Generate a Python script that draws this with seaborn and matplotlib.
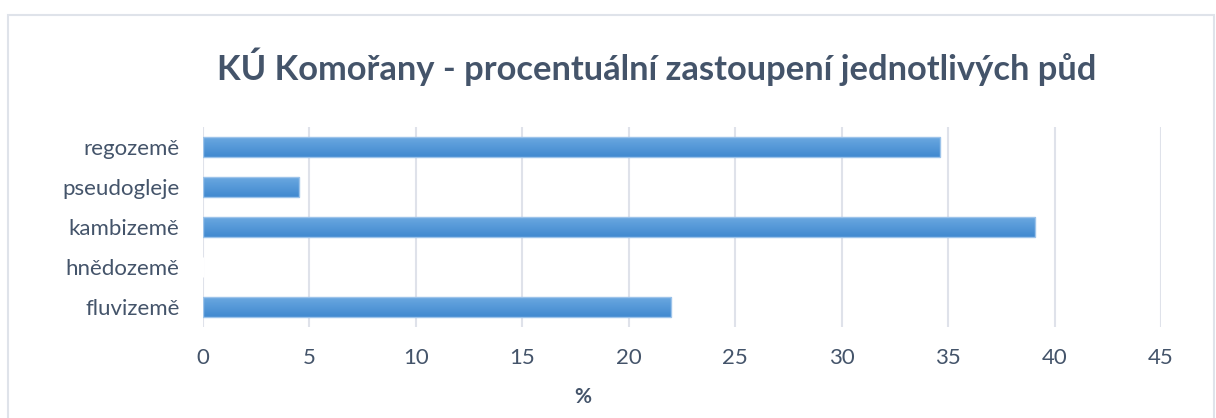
import numpy as np
import pandas as pd
import matplotlib.pyplot as plt
import seaborn as sns
from matplotlib.patches import Rectangle

# Data
soils = ["regozemě", "pseudogleje", "kambizemě", "hnědozemě", "fluvizemě"]
percent = [34.6, 4.5, 39.1, 0.0, 22.0]
x_ticks = [0, 5, 10, 15, 20, 25, 30, 35, 40, 45]

df = pd.DataFrame({"soil": soils, "percent": percent})

sns.set_style("white")
plt.rcParams["font.family"] = ["Lato", "DejaVu Sans"]
text_color = "#44546a"

fig = plt.figure(figsize=(12.16, 4.18), dpi=100, facecolor="white")
ax = fig.add_axes([203 / 1216, 1 - 327 / 418, (1161 - 203) / 1216, 200 / 418])

sns.barplot(data=df, x="percent", y="soil", order=soils, color="#5b9bd5",
            width=0.5, ax=ax, zorder=3)

# gradient fill on each bar, like Excel
grad = np.linspace(0, 1, 64).reshape(-1, 1)
cmap = sns.blend_palette(["#6aa8e0", "#4189d0"], as_cmap=True)
for p in ax.patches:
    w = p.get_width()
    if w <= 0:
        continue
    x0, y0, h = p.get_x(), p.get_y(), p.get_height()
    p.set_facecolor("none")
    p.set_edgecolor("#9cc3ea")
    p.set_linewidth(1.0)
    ax.imshow(grad, cmap=cmap, aspect="auto", extent=(x0, x0 + w, y0 + h, y0),
              zorder=2, interpolation="bilinear")

ax.set_xlim(0, 45)
ax.set_ylim(4.5, -0.5)
ax.set_xticks(x_ticks)
ax.xaxis.grid(True, color="#dfe2ea", linewidth=1.5, zorder=0)
ax.set_axisbelow(True)
for s in ax.spines.values():
    s.set_visible(False)
ax.tick_params(axis="both", length=0, labelsize=16, colors=text_color)
ax.tick_params(axis="x", pad=15)
ax.tick_params(axis="y", pad=17)
ax.set_ylabel("")
ax.set_xlabel("%", fontsize=15, fontweight="bold", color=text_color)
ax.xaxis.set_label_coords((583 - 203) / 958, -60 / 200)

fig.text(0.54, 1 - 67 / 418, "KÚ Komořany - procentuální zastoupení jednotlivých půd",
         ha="center", va="center", fontsize=24.8, fontweight="bold", color=text_color)

# chart border
fig.patches.append(Rectangle((8 / 1216, -0.1), 1206 / 1216, 1.1 - 15 / 418,
                             transform=fig.transFigure, fill=False,
                             edgecolor="#dfe3ea", linewidth=1.5))

plt.savefig("out.png", dpi=100)
